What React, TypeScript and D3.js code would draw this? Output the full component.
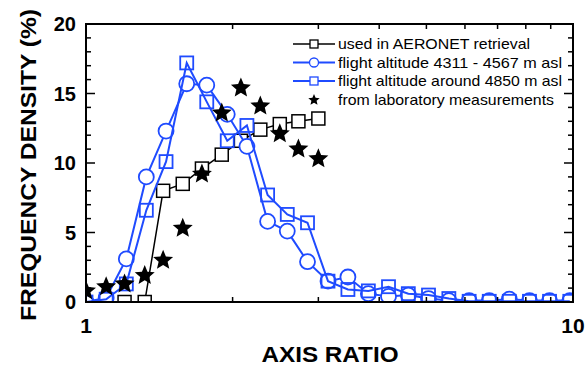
import { useRef, useEffect } from "react";
import * as d3 from "d3";

// bins used by AERONET and the lab measurements
const labRatio = [1.0, 1.1, 1.2, 1.32, 1.44, 1.58, 1.73, 1.9, 2.08, 2.28, 2.5, 2.73, 3.0];
const aeronetRatio = [1.2, 1.32, 1.44, 1.58, 1.73, 1.9, 2.08, 2.28, 2.5, 2.73, 3.0];
const aeronetFreq = [0, 0, 8.0, 8.5, 9.6, 10.6, 11.6, 12.4, 12.8, 13.0, 13.2];
const labFreq = [0.8, 1.1, 1.3, 1.9, 3.0, 5.3, 9.2, 13.6, 15.4, 14.1, 12.1, 11.0, 10.3];

// bins of the airborne measurements
const flightRatio = [
  1.0, 1.1, 1.21, 1.33, 1.46, 1.61, 1.77, 1.95, 2.14, 2.36, 2.59, 2.85, 3.14,
  3.45, 3.8, 4.18, 4.59, 5.05, 5.56, 6.12, 6.73, 7.4, 8.14, 8.95, 9.85,
];
const lowFlightFreq = [
  0, 0.3, 3.1, 9.0, 12.3, 15.7, 15.6, 13.5, 11.2, 5.8, 5.1, 2.9, 1.5, 1.8, 0.6,
  0.4, 0.5, 0.25, 0.1, 0.1, 0.1, 0.2, 0.1, 0.1, 0.1,
];
const highFlightFreq = [
  0, 0.2, 1.3, 6.6, 10.1, 17.2, 14.4, 11.6, 12.7, 7.7, 6.3, 5.7, 1.5, 0.9, 0.8,
  1.1, 0.6, 0.5, 0.25, 0.05, 0.05, 0.05, 0.05, 0.05, 0.05,
];

const yTicks = [0, 5, 10, 15, 20];
const xTicks = [1, 10];
const legendLabels = [
  "used in AERONET retrieval",
  "flight altitude 4311 - 4567 m asl",
  "flight altitude around 4850 m asl",
  "from laboratory measurements",
];

const BLUE = "#1f4bff";
const FONT = "'Liberation Sans', Arial, Helvetica, sans-serif";

function starPath(cx: number, cy: number, R: number) {
  const r = R * 0.45;
  const pts: [number, number][] = [];
  for (let i = 0; i < 10; i++) {
    const a = -Math.PI / 2 + (i * Math.PI) / 5;
    const rr = i % 2 === 0 ? R : r;
    pts.push([cx + rr * Math.cos(a), cy + rr * Math.sin(a)]);
  }
  return "M" + pts.map((p) => p.join(",")).join("L") + "Z";
}

export default function App() {
  const ref = useRef<SVGSVGElement>(null);

  useEffect(() => {
    const svg = d3.select(ref.current);
    svg.selectAll("*").remove();

    const m = { left: 86, right: 573, top: 24, bottom: 302 };
    const x = d3.scaleLog().domain([1, 10]).range([m.left, m.right]);
    const y = d3.scaleLinear().domain([0, 20]).range([m.bottom, m.top]);

    svg
      .append("defs")
      .append("clipPath")
      .attr("id", "plot")
      .append("rect")
      .attr("x", m.left)
      .attr("y", m.top)
      .attr("width", m.right - m.left)
      .attr("height", m.bottom - m.top);

    const plot = svg.append("g").attr("clip-path", "url(#plot)");
    const line = d3
      .line<[number, number]>()
      .x((d) => x(d[0]))
      .y((d) => y(d[1]));

    // AERONET
    const aer = aeronetRatio.map((r, i) => [r, aeronetFreq[i]] as [number, number]);
    plot.append("path").attr("d", line(aer)).attr("fill", "none").attr("stroke", "#000").attr("stroke-width", 1.5);
    plot
      .selectAll(".aer")
      .data(aer)
      .join("rect")
      .attr("x", (d) => x(d[0]) - 6.5)
      .attr("y", (d) => y(d[1]) - 6.5)
      .attr("width", 13)
      .attr("height", 13)
      .attr("fill", "#fff")
      .attr("stroke", "#000")
      .attr("stroke-width", 1.5);

    // flight, low altitude (circles)
    const low = flightRatio.map((r, i) => [r, lowFlightFreq[i]] as [number, number]);
    plot.append("path").attr("d", line(low)).attr("fill", "none").attr("stroke", BLUE).attr("stroke-width", 2);
    plot
      .selectAll(".low")
      .data(low)
      .join("circle")
      .attr("cx", (d) => x(d[0]))
      .attr("cy", (d) => y(d[1]))
      .attr("r", 7.5)
      .attr("fill", "#fff")
      .attr("stroke", BLUE)
      .attr("stroke-width", 1.8);

    // flight, ~4850 m (squares)
    const high = flightRatio.map((r, i) => [r, highFlightFreq[i]] as [number, number]);
    plot.append("path").attr("d", line(high)).attr("fill", "none").attr("stroke", BLUE).attr("stroke-width", 2);
    plot
      .selectAll(".high")
      .data(high)
      .join("rect")
      .attr("x", (d) => x(d[0]) - 6.5)
      .attr("y", (d) => y(d[1]) - 6.5)
      .attr("width", 13)
      .attr("height", 13)
      .attr("fill", "none")
      .attr("stroke", BLUE)
      .attr("stroke-width", 1.8);

    // lab stars
    plot
      .selectAll(".lab")
      .data(labRatio.map((r, i) => [r, labFreq[i]] as [number, number]))
      .join("path")
      .attr("d", (d) => starPath(x(d[0]), y(d[1]), 10.5))
      .attr("fill", "#000");

    // frame
    svg
      .append("rect")
      .attr("x", m.left)
      .attr("y", m.top)
      .attr("width", m.right - m.left)
      .attr("height", m.bottom - m.top)
      .attr("fill", "none")
      .attr("stroke", "#000")
      .attr("stroke-width", 2);

    // y ticks (inside, both sides)
    const ax = svg.append("g").attr("stroke", "#000").attr("stroke-width", 1.5);
    d3.range(0, 21).forEach((v) => {
      const len = v % 5 === 0 ? 9 : 5;
      ax.append("line").attr("x1", m.left).attr("x2", m.left + len).attr("y1", y(v)).attr("y2", y(v));
      ax.append("line").attr("x1", m.right).attr("x2", m.right - len).attr("y1", y(v)).attr("y2", y(v));
    });
    // x ticks
    x.ticks().forEach((v) => {
      if (v === 1 || v === 10) return;
      ax.append("line").attr("x1", x(v)).attr("x2", x(v)).attr("y1", m.bottom).attr("y2", m.bottom - 5);
      ax.append("line").attr("x1", x(v)).attr("x2", x(v)).attr("y1", m.top).attr("y2", m.top + 5);
    });

    const txt = svg.append("g").attr("font-family", FONT).attr("font-weight", "bold").attr("fill", "#000");
    yTicks.forEach((v) => {
      txt
        .append("text")
        .attr("x", 76)
        .attr("y", y(v) + 7)
        .attr("text-anchor", "end")
        .attr("font-size", 20)
        .text(v);
    });
    xTicks.forEach((v) => {
      txt
        .append("text")
        .attr("x", x(v))
        .attr("y", 333)
        .attr("text-anchor", "middle")
        .attr("font-size", 21)
        .text(v);
    });
    txt
      .append("text")
      .attr("x", 330)
      .attr("y", 362)
      .attr("text-anchor", "middle")
      .attr("font-size", 22)
      .attr("textLength", 137)
      .attr("lengthAdjust", "spacingAndGlyphs")
      .text("AXIS RATIO");
    txt
      .append("text")
      .attr("transform", `translate(36,${(m.top + m.bottom) / 2 + 2}) rotate(-90)`)
      .attr("text-anchor", "middle")
      .attr("font-size", 22)
      .attr("textLength", 312)
      .attr("lengthAdjust", "spacingAndGlyphs")
      .text("FREQUENCY DENSITY (%)");

    // legend
    const lg = svg.append("g").attr("font-family", FONT).attr("font-size", 15);
    const rows = [44, 62.5, 81, 100];
    const x0 = 293;
    const x1 = 335;
    const xc = 314;
    const widths = [192, 224, 224, 216];
    rows.forEach((ry, i) => {
      if (i < 3) {
        lg.append("line")
          .attr("x1", x0).attr("x2", x1).attr("y1", ry).attr("y2", ry)
          .attr("stroke", i === 0 ? "#000" : BLUE)
          .attr("stroke-width", i === 0 ? 1.5 : 2);
      }
      if (i === 0 || i === 2) {
        lg.append("rect")
          .attr("x", xc - 4).attr("y", ry - 4).attr("width", 8).attr("height", 8)
          .attr("fill", "#fff")
          .attr("stroke", i === 0 ? "#000" : BLUE)
          .attr("stroke-width", 1.3);
      } else if (i === 1) {
        lg.append("circle")
          .attr("cx", xc).attr("cy", ry).attr("r", 4.5)
          .attr("fill", "#fff").attr("stroke", BLUE).attr("stroke-width", 1.3);
      } else {
        lg.append("path").attr("d", starPath(xc, ry, 6)).attr("fill", "#000");
      }
      lg.append("text")
        .attr("x", 338)
        .attr("y", ry + 5)
        .attr("textLength", widths[i])
        .attr("lengthAdjust", "spacingAndGlyphs")
        .text(legendLabels[i]);
    });
  }, []);

  return (
    <svg
      ref={ref}
      width={586}
      height={370}
      style={{ position: "absolute", left: 0, top: 0, background: "#fff" }}
    />
  );
}
